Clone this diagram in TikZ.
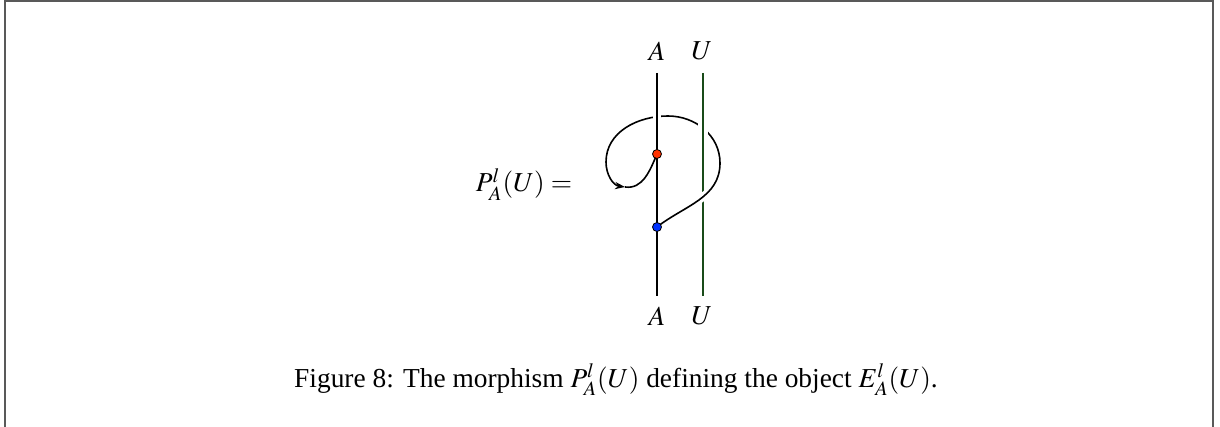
\documentclass[tikz,border=0pt]{standalone}
\usepackage{mathptmx}
\usepackage{fontspec}
\setmainfont{Liberation Serif}
\usetikzlibrary{arrows.meta}
\definecolor{ugreen}{RGB}{25,75,25}
\definecolor{dotred}{RGB}{255,50,0}
\definecolor{dotblue}{RGB}{0,50,255}
\tikzset{
  strand/.style={line width=0.8pt, black},
  ustrand/.style={line width=0.8pt, ugreen},
  halo/.style={line width=4pt, white},
  lab/.style={inner sep=0pt, font=\fontsize{13.7}{16}\selectfont},
  vdot/.style={circle, draw=black, line width=0.4pt, inner sep=0pt, minimum size=4.5pt},
}
\begin{document}
\begin{tikzpicture}[x=0.5pt,y=0.5pt]
\useasboundingbox (0,0) rectangle (1220,-427);
\draw[line width=0.6pt, black!65] (5,-427) -- (5,-1) -- (1213,-1) -- (1213,-427);

% labels
\node[lab] (At) at (657,-51) {$A$};
\node[lab] (Ut) at (702,-51) {$U$};
\node[lab] (Ab) at (657,-316) {$A$};
\node[lab] (Ub) at (702,-316) {$U$};
\node[lab, anchor=base] (eq) at (524,-192) {$P^l_A(U) =$};

% points
\coordinate (At0) at (657,-73);
\coordinate (Ab0) at (657,-296);
\coordinate (Ut0) at (703,-73);
\coordinate (Ub0) at (703,-296);
\coordinate (red) at (657,-154);
\coordinate (blue) at (657,-227);
\coordinate (r1) at (720,-163);
\coordinate (t1) at (668,-116);
\coordinate (l1) at (606,-162);
\coordinate (ar) at (625,-187);

% U strand
\draw[ustrand] (Ut0) -- (Ub0);
% arc with halo (over U at bottom)
\draw[halo] (blue) to[out=38,in=-90] (r1);
\draw[strand] (blue) to[out=38,in=-90] (r1) to[out=90,in=0] (t1) to[out=180,in=90] (l1);
\draw[strand, -{Stealth[length=5pt,width=3.6pt]}] (l1) to[out=-90,in=172] (ar);
\draw[strand] (ar) to[out=-8,in=-113] (red);
% U over arc at top
\draw[halo, line width=5pt] (703,-112) -- (703,-150);
\draw[ustrand] (703,-100) -- (703,-160);
% A strand over arc at top
\draw[halo] (657,-108) -- (657,-126);
\draw[strand] (At0) -- (Ab0);

\node[vdot, fill=dotred] (rd) at (red) {};
\node[vdot, fill=dotblue] (bd) at (blue) {};

% caption
\node[lab, anchor=base] (cap) at (616,-387) {Figure 8: The morphism $P^l_A(U)$ defining the object $E^l_A(U)$.};
\end{tikzpicture}
\end{document}
